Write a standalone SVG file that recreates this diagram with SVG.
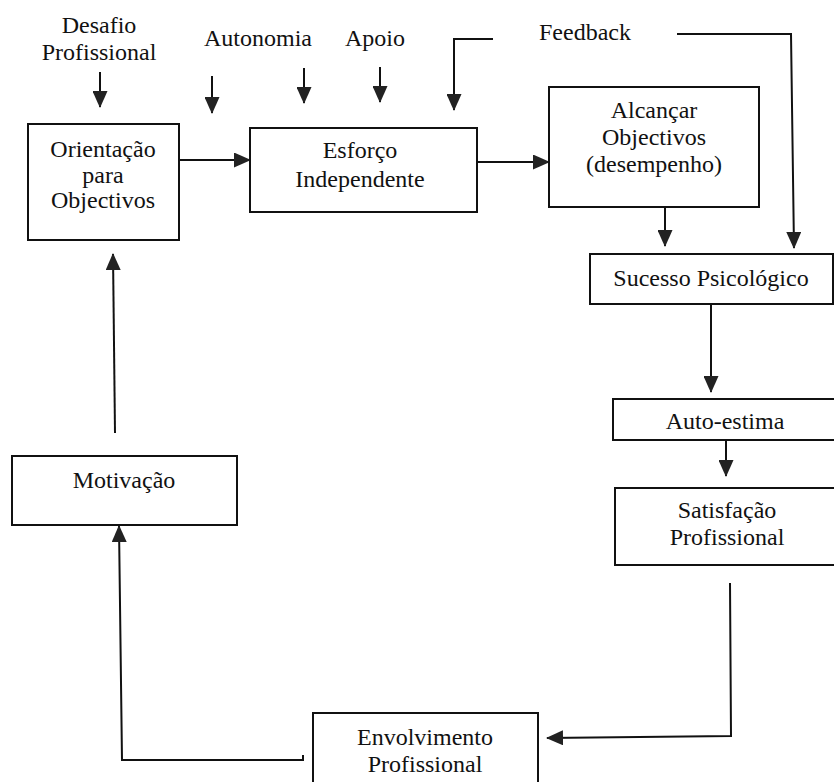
<svg xmlns="http://www.w3.org/2000/svg" width="834" height="782" viewBox="0 0 834 782">
<defs>
<style>
.box{fill:#fff;stroke:#111;stroke-width:2}
.ln{fill:none;stroke:#111;stroke-width:2}
.t{font-family:'Liberation Serif','Times New Roman','DejaVu Serif',serif;font-size:24px;fill:#111;text-anchor:middle}
</style>
<marker id="ah" viewBox="0 0 17 15" refX="16" refY="7.5" markerWidth="17" markerHeight="15" markerUnits="userSpaceOnUse" orient="auto">
<path d="M0,0 L17,7.5 L0,15 z" fill="#222"/>
</marker>
</defs>
<rect width="834" height="782" fill="#fff"/>
<g id="labels" class="t">
<text x="99" y="33">Desafio</text>
<text x="99" y="60">Profissional</text>
<text x="258" y="46">Autonomia</text>
<text x="375" y="46">Apoio</text>
<text x="585" y="40">Feedback</text>
</g>
<g id="connectors">
<line class="ln" x1="100" y1="72" x2="100" y2="107" marker-end="url(#ah)"/>
<line class="ln" x1="212" y1="76" x2="212" y2="113" marker-end="url(#ah)"/>
<line class="ln" x1="304" y1="68" x2="304" y2="103" marker-end="url(#ah)"/>
<line class="ln" x1="380" y1="67" x2="380" y2="102" marker-end="url(#ah)"/>
<polyline class="ln" points="493,39 454,39 454,110" marker-end="url(#ah)"/>
<polyline class="ln" points="677,34 791,34 794,248" marker-end="url(#ah)"/>
<line class="ln" x1="179" y1="160" x2="250" y2="160" marker-end="url(#ah)"/>
<line class="ln" x1="477" y1="162" x2="549" y2="162" marker-end="url(#ah)"/>
<line class="ln" x1="665" y1="207" x2="665" y2="246" marker-end="url(#ah)"/>
<line class="ln" x1="711" y1="304" x2="711" y2="392" marker-end="url(#ah)"/>
<line class="ln" x1="726" y1="440" x2="726" y2="476" marker-end="url(#ah)"/>
<polyline class="ln" points="730,583 731,736 547,738" marker-end="url(#ah)"/>
<polyline class="ln" points="303,755 303,760 122,760 119,526" marker-end="url(#ah)"/>
<line class="ln" x1="115" y1="433" x2="113" y2="254" marker-end="url(#ah)"/>
</g>
<g id="orientacao" class="t">
<rect class="box" x="28" y="124" width="151" height="116"/>
<text x="103" y="157">Orientação</text>
<text x="103" y="183">para</text>
<text x="103" y="208">Objectivos</text>
</g>
<g id="esforco" class="t">
<rect class="box" x="250" y="128" width="227" height="84"/>
<text x="360" y="158">Esforço</text>
<text x="360" y="187">Independente</text>
</g>
<g id="alcancar" class="t">
<rect class="box" x="549" y="87" width="210" height="120"/>
<text x="654" y="118">Alcançar</text>
<text x="654" y="145">Objectivos</text>
<text x="654" y="172">(desempenho)</text>
</g>
<g id="sucesso" class="t">
<rect class="box" x="590" y="254" width="243" height="50"/>
<text x="711" y="286">Sucesso Psicológico</text>
</g>
<g id="autoestima" class="t">
<rect class="box" x="613" y="399" width="222" height="41"/>
<text x="725" y="429">Auto-estima</text>
</g>
<g id="satisfacao" class="t">
<rect class="box" x="615" y="488" width="222" height="77"/>
<text x="727" y="518">Satisfação</text>
<text x="727" y="545">Profissional</text>
</g>
<g id="motivacao" class="t">
<rect class="box" x="12" y="456" width="225" height="69"/>
<text x="124" y="488">Motivação</text>
</g>
<g id="envolvimento" class="t">
<rect class="box" x="313" y="713" width="225" height="80"/>
<text x="425" y="745">Envolvimento</text>
<text x="425" y="772">Profissional</text>
</g>
</svg>
